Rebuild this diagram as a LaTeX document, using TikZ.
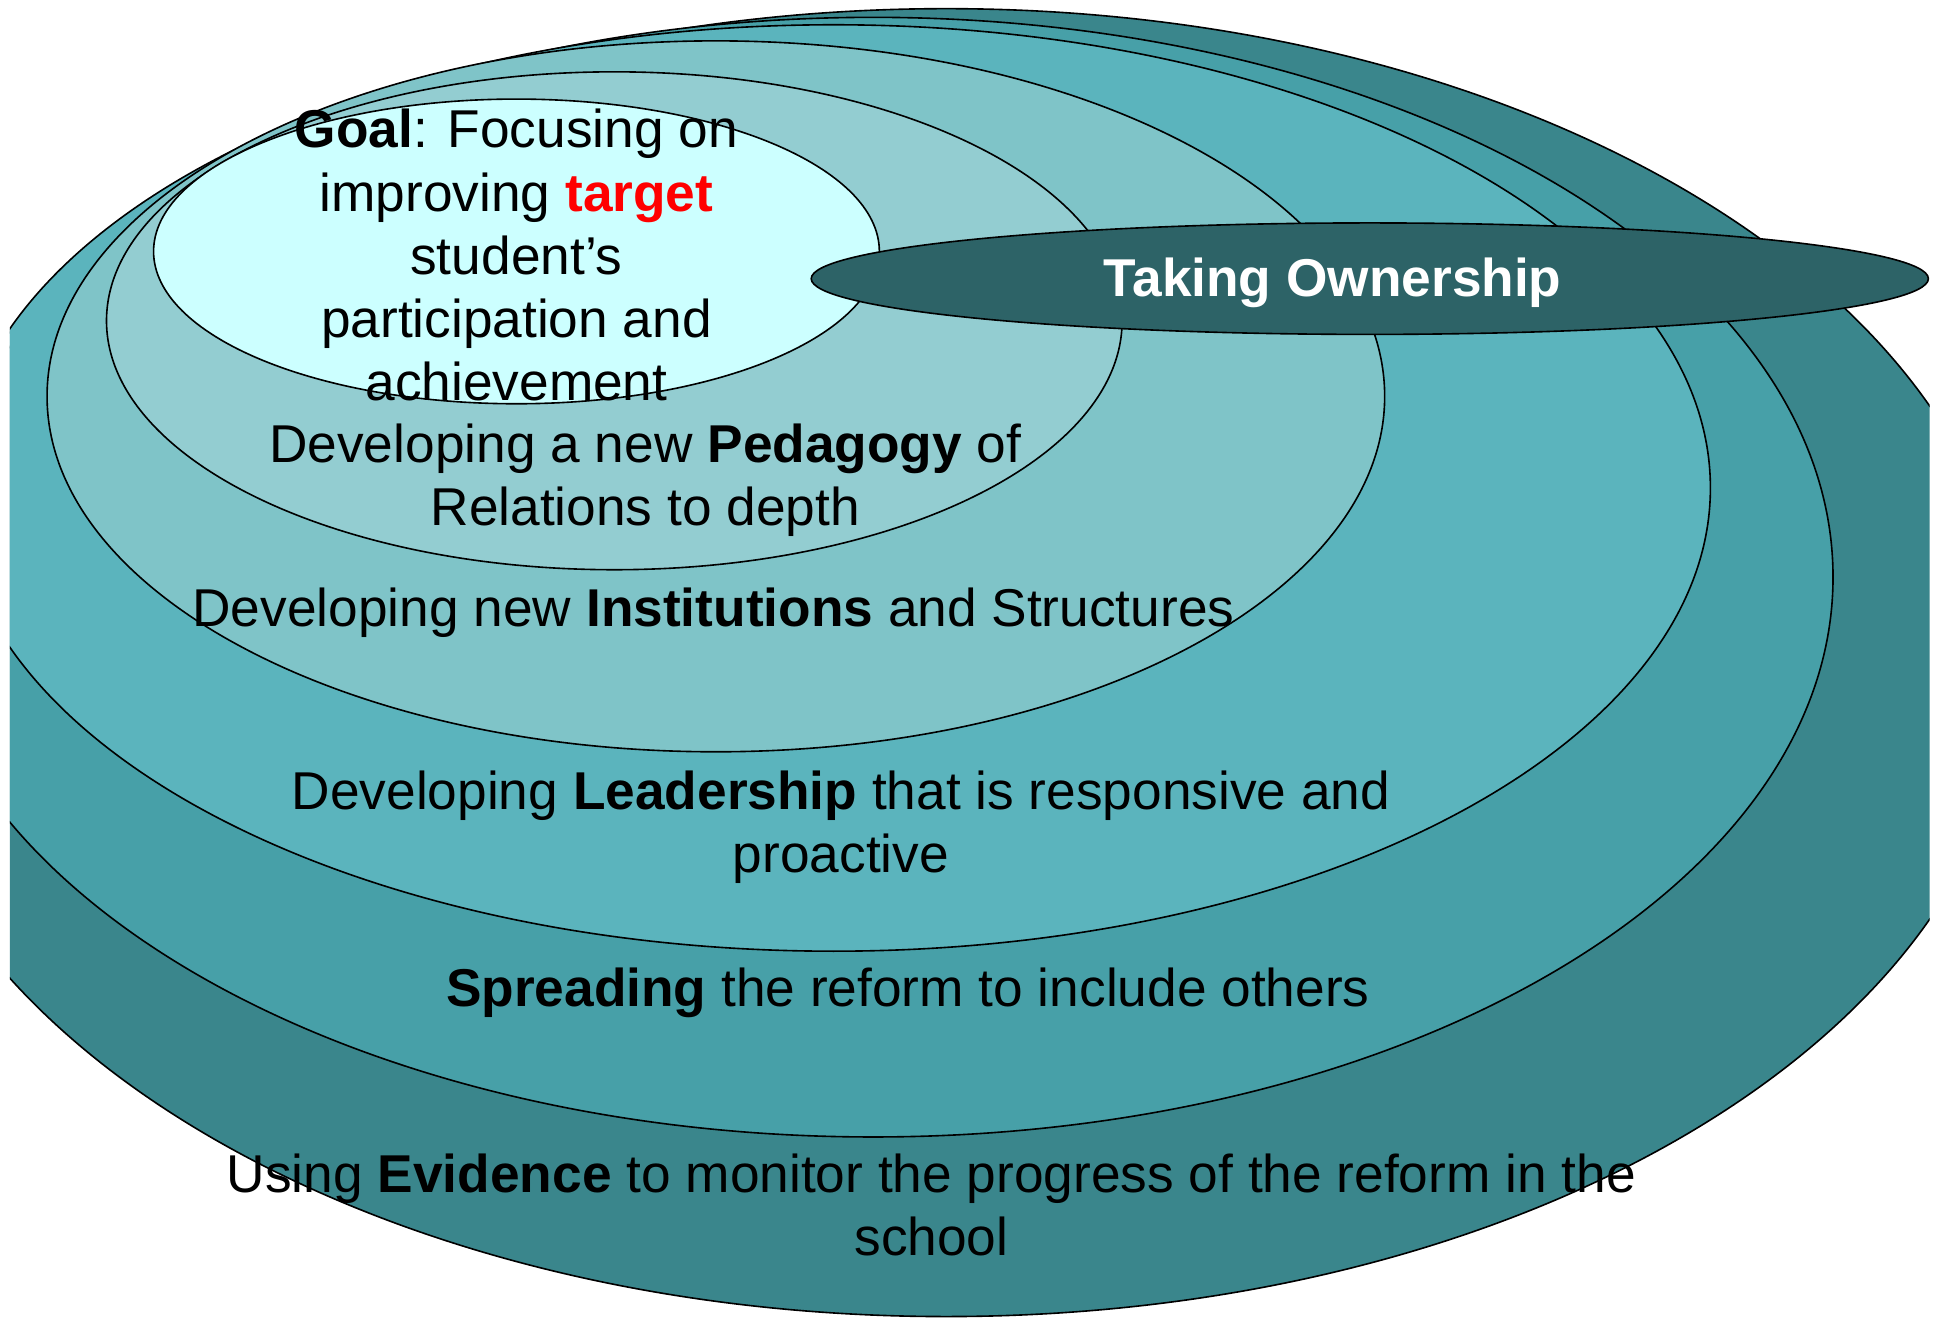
\documentclass[tikz,border=0pt]{standalone}
\usepackage{fontspec}
\setmainfont{Liberation Sans}
\definecolor{ringA}{HTML}{3A868C}
\definecolor{ringB}{HTML}{47A0A8}
\definecolor{ringC}{HTML}{5BB4BD}
\definecolor{ringD}{HTML}{7FC4C8}
\definecolor{ringE}{HTML}{93CDD1}
\definecolor{ringF}{HTML}{CCFFFF}
\definecolor{ownfill}{HTML}{2D6367}
\begin{document}
\begin{tikzpicture}[x=1pt,y=-1pt,
  ring/.style={draw=black,line width=1.3pt},
  label/.style={font=\fontsize{43}{51}\selectfont,align=center,text=black,inner sep=0pt},
]
\useasboundingbox (0,0) rectangle (1568,1065);
% nested rings, outermost first
\begin{scope}
  \clip (8,0) rectangle (1558,1065);
  \filldraw[ring,fill=ringA] (764,535) ellipse [x radius=863, y radius=528];
  \filldraw[ring,fill=ringB] (705,466) ellipse [x radius=775, y radius=452];
  \filldraw[ring,fill=ringC] (673,394) ellipse [x radius=708, y radius=374];
  \filldraw[ring,fill=ringD] (578,320) ellipse [x radius=540, y radius=287];
  \filldraw[ring,fill=ringE] (496,259) ellipse [x radius=410, y radius=201];
  \filldraw[ring,fill=ringF] (417,203) ellipse [x radius=293, y radius=123];
  \filldraw[ring,fill=ownfill] (1106,225) ellipse [x radius=451, y radius=45];
\end{scope}
% ring labels
\node[label] (goal) at (417,206) {\textbf{Goal}: Focusing on\\improving \textcolor{red}{\textbf{target}}\\student’s\\participation and\\achievement};
\node[label] (pedagogy) at (521,388) {Developing a new \textbf{Pedagogy} of\\Relations to depth};
\node[label] (institutions) at (576,495) {Developing new \textbf{Institutions} and Structures};
\node[label] (leadership) at (679,668) {Developing \textbf{Leadership} that is responsive and\\proactive};
\node[label] (spreading) at (733,802) {\textbf{Spreading} the reform to include others};
\node[label] (evidence) at (752,973) {Using \textbf{Evidence} to monitor the progress of the reform in the\\school};
\node[label,text=white,font=\fontsize{43}{51}\selectfont\bfseries] (ownership) at (1076,228) {Taking Ownership};
\end{tikzpicture}
\end{document}
